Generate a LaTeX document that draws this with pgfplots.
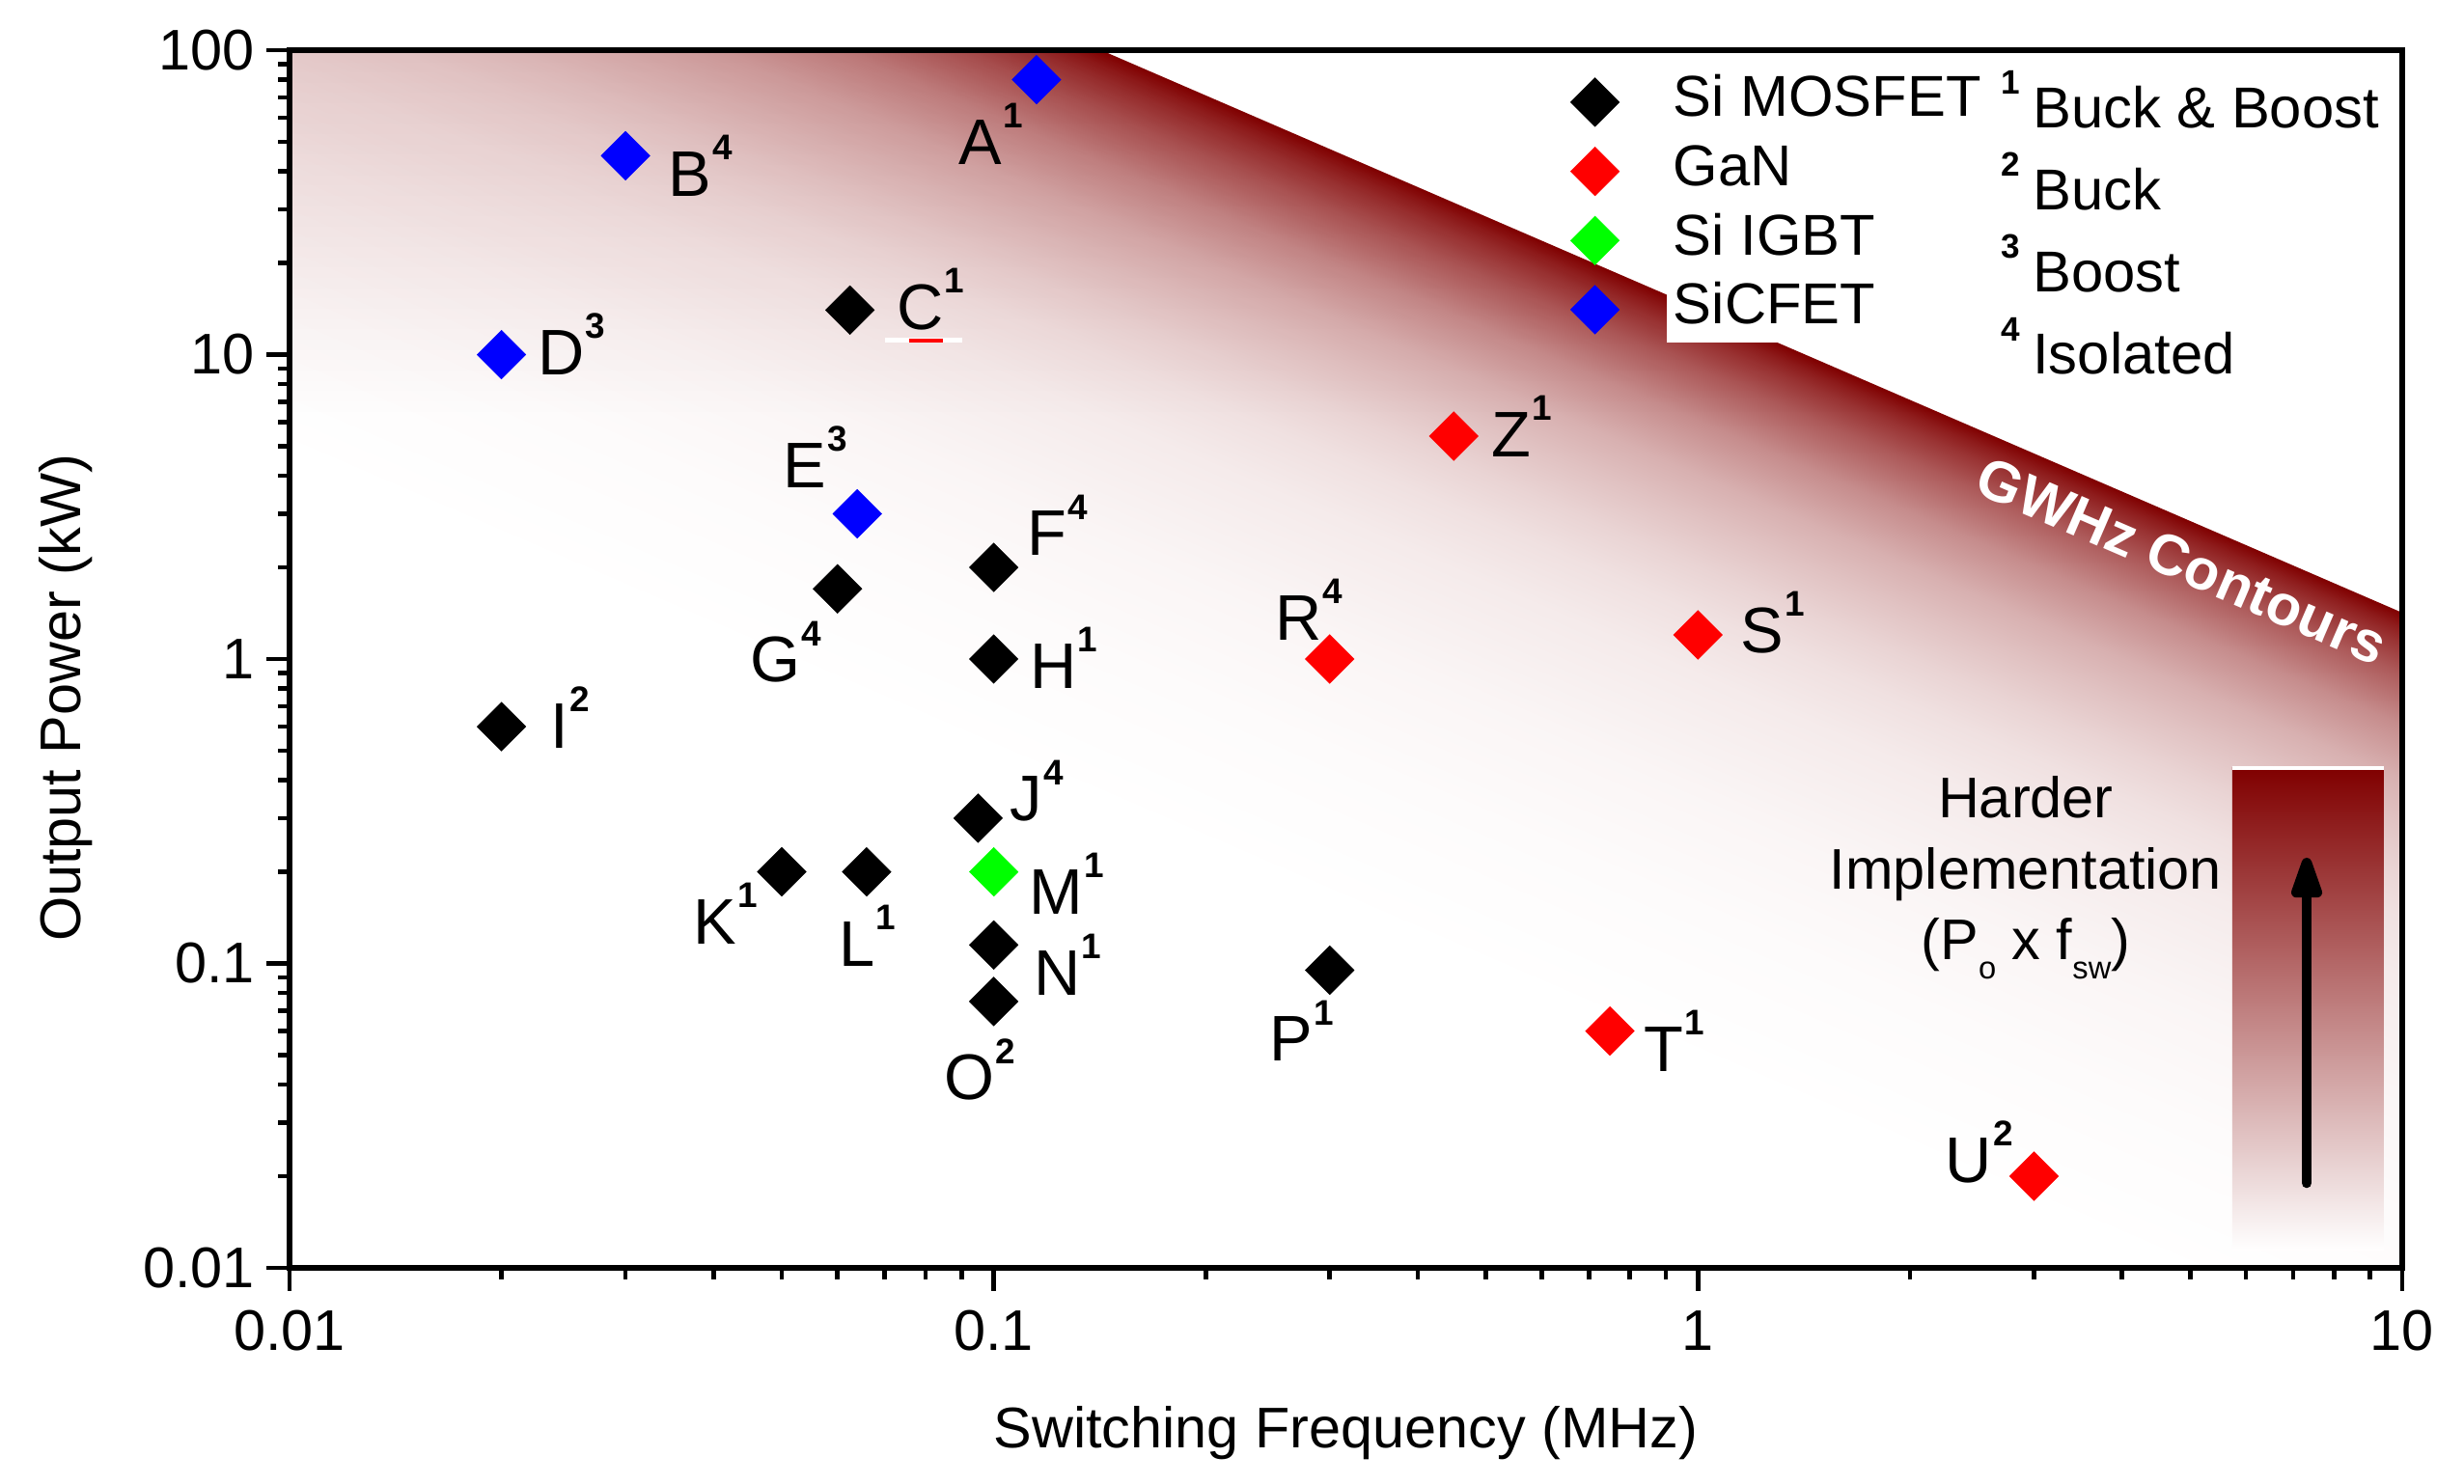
\documentclass[border=0pt]{standalone}
\usepackage{fontspec}
\setmainfont{Liberation Sans}
\usepackage{pgfplots}
\pgfplotsset{compat=1.18}
\usetikzlibrary{arrows.meta,fadings}

\definecolor{dr}{RGB}{128,0,0}
\colorlet{sA}{dr!89!white}
\colorlet{sB}{dr!80!white}
\colorlet{sC}{dr!65!white}
\colorlet{sD}{dr!45!white}
\colorlet{sE}{dr!31!white}
\colorlet{sF}{dr!24!white}
\colorlet{sG}{dr!17!white}
\colorlet{sH}{dr!12!white}
\colorlet{sI}{dr!8!white}
\colorlet{sK}{dr!3.8!white}
\colorlet{sL}{dr!1.5!white}
% stops: u = 50bp - 2.896*delta (delta = decades of P*f below the boundary)
\pgfdeclareverticalshading{gw}{100bp}{color(0bp)=(white); color(42.76bp)=(white); color(44.21bp)=(sL); color(45.37bp)=(sK); color(46.52bp)=(sI); color(47.10bp)=(sH); color(47.54bp)=(sG); color(48.00bp)=(sF); color(48.41bp)=(sE); color(48.93bp)=(sD); color(49.42bp)=(sC); color(49.71bp)=(sB); color(49.855bp)=(sA); color(50bp)=(dr); color(100bp)=(dr)}
\tikzfading[name=vfade, top color=transparent!86, bottom color=transparent!100]

\newcommand{\lb}[2]{#1\hspace{0.3pt}\raisebox{10.8pt}{\fontsize{10.5}{11}\selectfont\bfseries #2}}
\newcommand{\fn}[2]{\raisebox{9.7pt}{\fontsize{10}{11}\selectfont\bfseries #1}\hspace{1.3mm}#2}

\begin{document}
\begin{tikzpicture}
\useasboundingbox (-30mm,-22.4mm) rectangle (225.3mm,131.4mm);
\begin{axis}[
  xmode=log, ymode=log,
  scale only axis, width=218.9mm, height=126.2mm,
  xmin=0.01, xmax=10, ymin=0.01, ymax=100,
  axis on top,
  axis line style={line width=1.6pt},
  tick align=outside, xtick pos=bottom, ytick pos=left,
  major tick length=2.4mm, minor tick length=1.2mm,
  major tick style={line width=1.3pt, black},
  minor tick style={line width=1.3pt, black},
  xtick={0.01,0.1,1,10}, xticklabels={0.01,0.1,1,10},
  ytick={0.01,0.1,1,10,100}, yticklabels={0.01,0.1,1,10,100},
  minor xtick={0.02,0.03,0.04,0.05,0.06,0.07,0.08,0.09,0.2,0.3,0.4,0.5,0.6,0.7,0.8,0.9,2,3,4,5,6,7,8,9},
  minor ytick={0.02,0.03,0.04,0.05,0.06,0.07,0.08,0.09,0.2,0.3,0.4,0.5,0.6,0.7,0.8,0.9,2,3,4,5,6,7,8,9,20,30,40,50,60,70,80,90},
  ticklabel style={font=\fontsize{16.9}{20}\selectfont},
  xticklabel style={yshift=-0.8mm},
  xlabel={Switching Frequency (MHz)},
  ylabel={Output Power (kW)},
  every axis x label/.style={at={(axis description cs:0.5,-0.1355)}, anchor=center, font=\fontsize{16.9}{20}\selectfont},
  every axis y label/.style={at={(axis description cs:-0.106,0.468)}, anchor=center, rotate=90, font=\fontsize{16.9}{20}\selectfont},
  legend style={at={(rel axis cs:0.6012,0.9906)}, anchor=north west, draw=none, fill=none,
    font=\fontsize{17}{20}\selectfont, row sep=0.9pt,
    nodes={inner sep=2pt, text height=12pt, text depth=3.5pt},
    /tikz/every odd column/.append style={column sep=4.9mm}},
  legend cell align=left,
]
% GWHz contour shading
\begin{scope}
\clip (axis cs:0.142,100) -- (axis cs:10,1.42) -- (axis cs:10,0.01) -- (axis cs:0.01,0.01) -- (axis cs:0.01,100) -- cycle;
\begin{scope}[shift={(axis cs:1,14.2)}]
\shade[overlay, shading=gw, shading angle=-23.384] (-25cm,-25cm) rectangle (25cm,25cm);
\end{scope}
\fill[dr, path fading=vfade] (rel axis cs:0,0.70) rectangle (rel axis cs:1,1);
\end{scope}
% harder implementation bar
\shade[top color=dr, bottom color=white] (rel axis cs:0.9196,0.0143) rectangle (rel axis cs:0.9913,0.4105);
\draw[white, line width=1pt] (rel axis cs:0.9196,0.4105) -- (rel axis cs:0.9913,0.4105);
\draw[line width=3pt, line cap=round, -{Triangle[length=5.4mm,width=3.3mm,round]}] (rel axis cs:0.9548,0.0697) -- (rel axis cs:0.9548,0.3368);

\addplot[only marks, mark=square*, mark size=5.1pt, mark options={rotate=45, fill=black, draw=black, line width=0.1pt}]
  coordinates {(0.0625,14) (0.1,2) (0.06,1.7) (0.1,1) (0.02,0.6) (0.095,0.3) (0.05,0.2) (0.066,0.2) (0.1,0.115) (0.1,0.075) (0.3,0.095)};
\addlegendentry{Si MOSFET}
\addplot[only marks, mark=square*, mark size=5.1pt, mark options={rotate=45, fill=red, draw=red, line width=0.1pt}]
  coordinates {(0.3,1) (0.45,5.4) (1,1.2) (0.75,0.06) (3,0.02)};
\addlegendentry{GaN}
\addplot[only marks, mark=square*, mark size=5.1pt, mark options={rotate=45, fill=green, draw=green, line width=0.1pt}]
  coordinates {(0.1,0.2)};
\addlegendentry{Si IGBT}
\addplot[only marks, mark=square*, mark size=5.1pt, mark options={rotate=45, fill=blue, draw=blue, line width=0.1pt}]
  coordinates {(0.115,80) (0.03,45) (0.02,10) (0.064,3)};
\addlegendentry[fill=white]{SiCFET}

% small artefact under C
\draw[white, line width=1.6pt] (rel axis cs:0.2819,0.7619) -- (rel axis cs:0.3184,0.7619);
\draw[red, line width=1.2pt] (rel axis cs:0.2933,0.7617) -- (rel axis cs:0.3093,0.7617);

% point labels
\begin{scope}[every node/.style={anchor=base west, inner sep=0pt, font=\fontsize{19}{22}\selectfont}]
\node at (rel axis cs:0.3166,0.9065) {\lb{A}{1}};
\node at (rel axis cs:0.1791,0.8803) {\lb{B}{4}};
\node at (rel axis cs:0.2873,0.7710) {\lb{C}{1}};
\node at (rel axis cs:0.1174,0.7330) {\lb{D}{3}};
\node at (rel axis cs:0.2334,0.6410) {\lb{E}{3}};
\node at (rel axis cs:0.3490,0.5848) {\lb{F}{4}};
\node at (rel axis cs:0.2179,0.4810) {\lb{G}{4}};
\node at (rel axis cs:0.3504,0.4762) {\lb{H}{1}};
\node at (rel axis cs:0.1234,0.4271) {\lb{I}{2}};
\node at (rel axis cs:0.3408,0.3669) {\lb{J}{4}};
\node at (rel axis cs:0.1910,0.2662) {\lb{K}{1}};
\node at (rel axis cs:0.2599,0.2480) {\lb{L}{1}};
\node at (rel axis cs:0.3499,0.2908) {\lb{M}{1}};
\node at (rel axis cs:0.3522,0.2235) {\lb{N}{1}};
\node at (rel axis cs:0.3097,0.1379) {\lb{O}{2}};
\node at (rel axis cs:0.4637,0.1696) {\lb{P}{1}};
\node at (rel axis cs:0.4664,0.5158) {\lb{R}{4}};
\node at (rel axis cs:0.5688,0.6664) {\lb{Z}{1}};
\node at (rel axis cs:0.6866,0.5055) {\lb{S}{1}};
\node at (rel axis cs:0.6409,0.1616) {\lb{T}{1}};
\node at (rel axis cs:0.7835,0.0705) {\lb{U}{2}};
\end{scope}

% footnote legend
\begin{scope}[every node/.style={anchor=base west, inner sep=0pt, font=\fontsize{17}{20}\selectfont}]
\node at (rel axis cs:0.8100,0.9366) {\fn{1}{Buck \& Boost}};
\node at (rel axis cs:0.8100,0.8692) {\fn{2}{Buck}};
\node at (rel axis cs:0.8100,0.8019) {\fn{3}{Boost}};
\node at (rel axis cs:0.8100,0.7338) {\fn{4}{Isolated}};
\end{scope}

% annotations
\node[rotate=-23.38, text=white, inner sep=0pt, font=\bfseries\fontsize{16.9}{20}\selectfont] at (axis cs:4.87,2.1) {GWHz Contours};
\begin{scope}[every node/.style={anchor=base, inner sep=0pt, font=\fontsize{16.9}{20}\selectfont}]
\node at (rel axis cs:0.8218,0.3693) {Harder};
\node at (rel axis cs:0.8218,0.3107) {Implementation};
\node at (rel axis cs:0.8218,0.2528) {(P\raisebox{-5.7pt}{\fontsize{9.3}{10}\selectfont o} x f\raisebox{-5.7pt}{\fontsize{9.3}{10}\selectfont sw})};
\end{scope}
\end{axis}
\end{tikzpicture}
\end{document}
